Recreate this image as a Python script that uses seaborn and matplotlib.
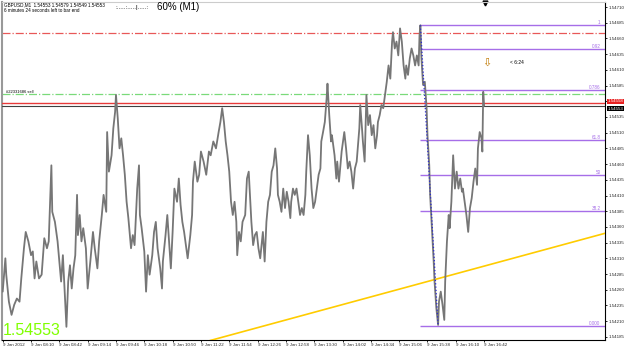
import matplotlib
matplotlib.use('Agg')
import matplotlib.pyplot as plt
import seaborn as sns
import pandas as pd
import numpy as np
from matplotlib.transforms import blended_transform_factory

# ---------------- data ----------------
# minutes since 07:38 (9 Jan 2012), GBPUSD M1 prices
minutes = [0, 3, 4, 7, 10, 13, 16, 19, 21, 24, 26, 29, 32, 34, 36, 38, 41, 44, 47, 50,
           52, 55, 56, 59, 62, 64, 66, 68, 71, 72, 74, 76, 78, 80, 82, 84, 85, 87, 89, 91,
           94, 96, 99, 102, 104, 107, 109, 112, 114, 117, 118, 120, 123, 125, 127, 128, 130,
           132, 134, 136, 138, 140, 142, 145, 147, 149, 152, 154, 155, 157, 160, 162, 164,
           166, 169, 171, 173, 175, 178, 180, 181, 184, 186, 188, 190, 192, 194, 197, 199,
           201, 203, 205, 207, 209, 212, 214, 215, 217, 220, 222, 224, 227, 230, 233, 235,
           238, 241, 244, 246, 248, 250, 252, 254, 256, 258, 260, 262, 264, 265, 267, 269,
           271, 274, 276, 278, 281, 283, 285, 287, 289, 291, 293, 294, 296, 298, 300, 302,
           304, 306, 308, 310, 311, 313, 315, 317, 319, 321, 323, 325, 326, 328, 330, 332,
           334, 336, 338, 340, 342, 343, 345, 347, 349, 351, 353, 355, 357, 359, 360, 362,
           364, 366, 367, 369, 371, 372, 375, 377, 378, 380, 383, 386, 388, 390, 392, 394,
           396, 398, 400, 403, 404, 406, 407, 409, 411, 413, 415, 417, 419, 421, 423, 424,
           426, 428, 430, 432, 434, 436, 438, 440, 441, 443, 445, 447, 449, 451, 453, 455,
           456, 458, 460, 462, 464, 466, 468, 470, 471, 472, 473, 475, 477, 479, 480, 482,
           483, 485, 487, 488, 490, 492, 493, 495, 497, 499, 500, 502, 504, 505, 507, 509,
           511, 513, 515, 517, 519, 520, 522, 524, 526, 528, 530, 532, 534, 536, 537, 539,
           541, 542, 543, 544]
prices = [1.54257, 1.54310, 1.54284, 1.54241, 1.54220, 1.54236, 1.54246, 1.54241, 1.54278, 1.54326,
          1.54352, 1.54337, 1.54315, 1.54321, 1.54278, 1.54305, 1.54278, 1.54284, 1.54342, 1.54326,
          1.54337, 1.54458, 1.54384, 1.54368, 1.54337, 1.54305, 1.54273, 1.54315, 1.54231, 1.54201,
          1.54273, 1.54299, 1.54262, 1.54294, 1.54315, 1.54411, 1.54347, 1.54379, 1.54337, 1.54358,
          1.54326, 1.54262, 1.54305, 1.54352, 1.54326, 1.54294, 1.54337, 1.54379, 1.54411, 1.54384,
          1.54511, 1.54448, 1.54474, 1.54517, 1.54543, 1.54570, 1.54533, 1.54485, 1.54501, 1.54474,
          1.54443, 1.54400, 1.54374, 1.54326, 1.54347, 1.54331, 1.54421, 1.54458, 1.54379, 1.54358,
          1.54321, 1.54257, 1.54315, 1.54284, 1.54315, 1.54352, 1.54368, 1.54326, 1.54294, 1.54262,
          1.54305, 1.54347, 1.54379, 1.54337, 1.54294, 1.54352, 1.54421, 1.54400, 1.54437, 1.54395,
          1.54368, 1.54352, 1.54331, 1.54310, 1.54347, 1.54379, 1.54432, 1.54464, 1.54432, 1.54443,
          1.54480, 1.54464, 1.54443, 1.54480, 1.54474, 1.54496, 1.54485, 1.54511, 1.54527, 1.54549,
          1.54527, 1.54496, 1.54474, 1.54448, 1.54400, 1.54379, 1.54400, 1.54368, 1.54315, 1.54352,
          1.54337, 1.54368, 1.54379, 1.54437, 1.54448, 1.54368, 1.54331, 1.54347, 1.54352, 1.54326,
          1.54310, 1.54337, 1.54352, 1.54305, 1.54368, 1.54400, 1.54411, 1.54448, 1.54458, 1.54485,
          1.54453, 1.54411, 1.54400, 1.54384, 1.54421, 1.54390, 1.54416, 1.54400, 1.54374, 1.54400,
          1.54421, 1.54411, 1.54421, 1.54400, 1.54379, 1.54390, 1.54379, 1.54411, 1.54448, 1.54506,
          1.54474, 1.54421, 1.54390, 1.54400, 1.54421, 1.54443, 1.54453, 1.54496, 1.54511, 1.54527,
          1.54564, 1.54588, 1.54538, 1.54496, 1.54506, 1.54474, 1.54437, 1.54464, 1.54432, 1.54480,
          1.54511, 1.54485, 1.54453, 1.54464, 1.54448, 1.54421, 1.54453, 1.54464, 1.54517, 1.54554,
          1.54517, 1.54496, 1.54464, 1.54570, 1.54522, 1.54538, 1.54506, 1.54522, 1.54485, 1.54506,
          1.54527, 1.54538, 1.54554, 1.54549, 1.54570, 1.54591, 1.54617, 1.54596, 1.54655, 1.54670,
          1.54644, 1.54655, 1.54633, 1.54676, 1.54655, 1.54617, 1.54596, 1.54617, 1.54602, 1.54628,
          1.54644, 1.54633, 1.54617, 1.54633, 1.54617, 1.54665, 1.54681, 1.54633, 1.54586, 1.54591,
          1.54549, 1.54506, 1.54458, 1.54411, 1.54358, 1.54305, 1.54273, 1.54231, 1.54204, 1.54241,
          1.54257, 1.54236, 1.54212, 1.54273, 1.54337, 1.54379, 1.54358, 1.54400, 1.54474, 1.54421,
          1.54448, 1.54421, 1.54437, 1.54416, 1.54421, 1.54400, 1.54379, 1.54352, 1.54390, 1.54406,
          1.54432, 1.54453, 1.54427, 1.54485, 1.54511, 1.54501, 1.54480, 1.54575, 1.54553]

tick_minutes = [0, 32, 64, 96, 128, 160, 192, 224, 256, 288, 320, 352, 384, 416, 448, 480, 512, 544]
tick_labels = ["9 Jan 2012", "9 Jan 08:10", "9 Jan 08:42", "9 Jan 09:14", "9 Jan 09:46",
               "9 Jan 10:18", "9 Jan 10:50", "9 Jan 11:22", "9 Jan 11:54", "9 Jan 12:26",
               "9 Jan 12:58", "9 Jan 13:30", "9 Jan 14:02", "9 Jan 14:34", "9 Jan 15:06",
               "9 Jan 15:38", "9 Jan 16:10", "9 Jan 16:42"]
price_ticks = [1.54185, 1.54210, 1.54235, 1.54260, 1.54285, 1.54310, 1.54335, 1.54360,
               1.54385, 1.54410, 1.54435, 1.54460, 1.54485, 1.54510, 1.54535, 1.54560,
               1.54585, 1.54610, 1.54635, 1.54660, 1.54685, 1.54710]

fib_high, fib_low = 1.54681, 1.54203
fib_high_min, fib_low_min = 472, 492
fib_levels = [0.0, 0.382, 0.5, 0.618, 0.786, 0.92, 1.0]
fib_labels = ["0.000", "38.2", "50", "61.8", "0.786", "0.92", "1"]

stop_price = 1.54668
order_price = 1.54571
order_label = "#22331686 sell"
level_red = 1.54558
bid = 1.54553
trend_minutes = [234, 681]
trend_prices = [1.54179, 1.54350]
header1 = "GBPUSD,M1  1.54553 1.54579 1.54549 1.54553"
header2 = "6 minutes 24 seconds left to bar end"
timer_text = "< 6:24"
arrow_pos = (547, 1.54622)

# ---------------- figure ----------------
sns.set_style('white')
plt.rcParams['font.family'] = ['Liberation Sans', 'DejaVu Sans']

W, H = 625, 350
fig = plt.figure(figsize=(6.25, 3.5), dpi=100)
fig.patch.set_facecolor('white')


def fx(px):
    return px / W


def fy(py):
    return 1 - py / H


ax = fig.add_axes([fx(2), fy(340), fx(605) - fx(2), fy(2) - fy(340)])
ax.set_facecolor('white')

xmin, xmax = -0.8, 680.6
ax.set_xlim(xmin, xmax)
ax.set_ylim(1.54180, 1.54718)

# Fibonacci levels
purple = '#a66ee8'
for lvl, lab in zip(fib_levels, fib_labels):
    p = fib_low + lvl * (fib_high - fib_low)
    ax.hlines(p, fib_high_min, xmax, color=purple, lw=1.0, zorder=2)
    ax.text(xmax - 5, p, lab, fontsize=3.3, color=purple, ha='right', va='bottom', zorder=6)
ax.plot([fib_high_min, fib_low_min], [fib_high, fib_low], color='#2a2ad0', ls=':', lw=0.9, zorder=7)

# horizontal lines
ax.axhline(stop_price, color='#e85858', ls='-.', lw=0.9, zorder=2)
ax.axhline(order_price, color='#7ada7a', ls='-.', lw=0.9, zorder=2)
ax.axhline(level_red, color='#e83a3a', lw=1.0, zorder=3)
ax.axhline(bid, color='#404040', lw=0.8, zorder=3)
ax.text(4, order_price + 0.000012, order_label, fontsize=3.0, color='black', ha='left', va='bottom')

# trend line
ax.plot(trend_minutes, trend_prices, color='#ffcc00', lw=1.2, zorder=4)

# price series
df = pd.DataFrame({'minute': minutes, 'price': prices})
sns.lineplot(data=df, x='minute', y='price', ax=ax, color='#767676', lw=1.3, zorder=5,
             estimator=None, sort=False)
ax.set_xlabel('')
ax.set_ylabel('')

# arrow and timer
ax.text(arrow_pos[0], arrow_pos[1], '\u21e9', fontsize=8, color='#c07800', ha='center', va='center',
        family=['DejaVu Sans'])
ax.text(573, arrow_pos[1], timer_text, fontsize=3.5, color='black', ha='left', va='center')

# chart shift marker
tr = blended_transform_factory(ax.transData, ax.transAxes)
ax.plot([545], [0.997], marker='v', markersize=3.5, color='black', transform=tr, clip_on=False)

# axes styling
ax.set_xticks(tick_minutes)
ax.set_xticklabels(tick_labels, fontsize=3.2, ha='left')
ax.yaxis.tick_right()
ax.set_yticks(price_ticks)
ax.set_yticklabels([f"{v:.5f}" for v in price_ticks], fontsize=3.2)
ax.tick_params(axis='both', length=1.5, width=0.6, color='black', pad=0.8, direction='out',
               bottom=True, right=True, left=False)
for s in ax.spines.values():
    s.set_color('black')
    s.set_linewidth(0.8)
ax.spines['left'].set_color('#999999')
ax.spines['left'].set_linewidth(1.5)
ax.spines['top'].set_color('#cccccc')

# price labels on the axis
tr2 = blended_transform_factory(ax.transAxes, ax.transData)
ax.text(1.004, level_red + 0.00002, f"{level_red:.5f}", transform=tr2, fontsize=3.2, color='white',
        ha='left', va='center', bbox=dict(boxstyle='square,pad=0.12', fc='#e82020', ec='none'),
        zorder=10, clip_on=False)
ax.text(1.004, bid - 0.00005, f"{bid:.5f}", transform=tr2, fontsize=3.2, color='white',
        ha='left', va='center', bbox=dict(boxstyle='square,pad=0.12', fc='black', ec='none'),
        zorder=9, clip_on=False)

# header texts
fig.text(fx(4), fy(5), header1, fontsize=3.3, color='black', ha='left', va='center')
fig.text(fx(4), fy(11), header2, fontsize=3.3, color='black', ha='left', va='center')
fig.text(fx(115), fy(7), ':.....:.....|.....:', fontsize=4.5, color='black', ha='left', va='center')
fig.text(fx(157), fy(7), '60% (M1)', fontsize=7, color='black', ha='left', va='center')

# big bid text
fig.text(fx(3), fy(338), f"{bid:.5f}", fontsize=11.5, color='#80ff00', ha='left', va='bottom')

fig.savefig('out.png', dpi=100, facecolor='white')
